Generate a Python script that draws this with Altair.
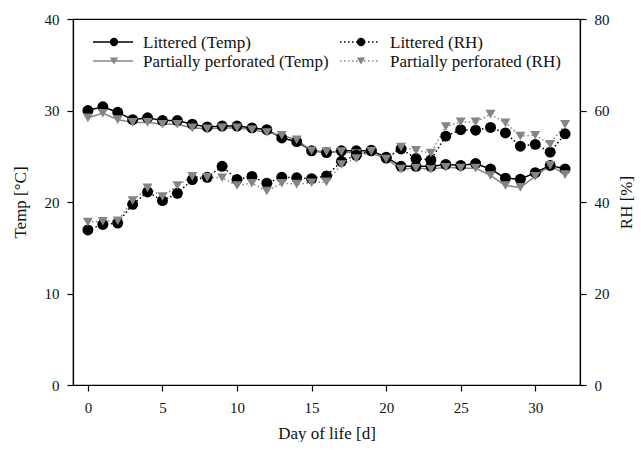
import altair as alt
import pandas as pd

days = list(range(33))
temp_littered = [30.0, 30.4, 29.8, 29.0, 29.2, 28.9, 28.9, 28.5, 28.2, 28.3, 28.3, 28.1, 27.9, 27.0, 26.6,
                 25.6, 25.4, 25.6, 25.6, 25.6, 24.9, 23.9, 23.9, 23.9, 24.1, 24.0, 24.2, 23.6, 22.6, 22.5,
                 23.2, 24.0, 23.6]
temp_perforated = [29.2, 29.7, 29.0, 28.7, 28.7, 28.5, 28.5, 28.1, 28.0, 28.1, 28.1, 27.9, 27.6, 27.3, 26.8,
                   25.6, 25.5, 25.5, 25.3, 25.4, 24.7, 23.6, 23.7, 23.6, 23.8, 23.7, 23.7, 22.9, 21.8, 21.6,
                   22.8, 24.0, 23.0]
rh_littered = [33.9, 35.1, 35.4, 39.5, 42.2, 40.3, 41.9, 44.9, 45.4, 47.8, 44.9, 45.6, 44.1, 45.4, 45.3,
               45.1, 45.7, 48.9, 50.2, 51.3, 49.6, 51.6, 49.5, 49.2, 54.4, 55.8, 55.7, 56.3, 55.1, 52.2,
               52.6, 50.9, 54.9]
rh_perforated = [35.6, 35.8, 35.9, 40.3, 43.1, 41.2, 43.6, 45.6, 45.4, 45.3, 43.6, 44.1, 42.4, 44.1, 43.9,
                 44.2, 44.4, 48.2, 49.5, 51.1, 49.4, 52.0, 51.3, 50.7, 56.5, 57.5, 57.5, 59.2, 57.3, 54.4,
                 54.6, 52.6, 57.0]

legend_labels = ["Littered (Temp)", "Littered (RH)", "Partially perforated (Temp)", "Partially perforated (RH)"]

FONT = "Liberation Serif"
BLACK = "#000000"
GREY = "#858585"

df = pd.DataFrame({
    "day": days,
    "temp_lit": temp_littered,
    "temp_perf": temp_perforated,
    "rh_lit": rh_littered,
    "rh_perf": rh_perforated,
})

xenc = alt.X("day:Q", scale=alt.Scale(domain=[-1, 33], nice=False, zero=False),
             axis=alt.Axis(values=[0, 5, 10, 15, 20, 25, 30], title="Day of life [d]",
                           grid=False, tickSize=6, labelPadding=9, titlePadding=10))

temp_scale = alt.Scale(domain=[0, 40], nice=False)
rh_scale = alt.Scale(domain=[0, 80], nice=False)
temp_axis = alt.Axis(values=[0, 10, 20, 30, 40], title="Temp [°C]", grid=False, tickSize=6,
                     labelPadding=8, titlePadding=15)
rh_axis = alt.Axis(values=[0, 20, 40, 60, 80], title="RH [%]", grid=False, tickSize=6, orient="right",
                   labelPadding=8, titlePadding=26, titleAngle=270)

base = alt.Chart(df)

def series(field, scale, axis, color, dash, shape, size):
    y = alt.Y(f"{field}:Q", scale=scale, axis=axis)
    line = base.mark_line(color=color, strokeWidth=1.5, strokeDash=dash).encode(x=xenc, y=y)
    pts = base.mark_point(shape=shape, filled=True, color=color, size=size, opacity=1).encode(x=xenc, y=y)
    return line, pts

l1, p1 = series("temp_lit", temp_scale, temp_axis, BLACK, [1, 0], "circle", 120)
l2, p2 = series("temp_perf", temp_scale, temp_axis, GREY, [1, 0], "triangle-down", 100)
l3, p3 = series("rh_lit", rh_scale, rh_axis, BLACK, [1.5, 2.5], "circle", 120)
l4, p4 = series("rh_perf", rh_scale, rh_axis, GREY, [1.5, 2.5], "triangle-down", 100)

temp_chart = alt.layer(l1, l2, p1, p2)
rh_chart = alt.layer(l3, l4, p3, p4)

# legend (decoration)
leg_layers = []
specs = [
    (legend_labels[0], 20, 23, BLACK, [1, 0], "circle"),
    (legend_labels[2], 20, 42, GREY, [1, 0], "triangle-down"),
    (legend_labels[1], 267, 23, BLACK, [1.5, 2.5], "circle"),
    (legend_labels[3], 267, 42, GREY, [1.5, 2.5], "triangle-down"),
]
for label, x0, y0, color, dash, shape in specs:
    leg_layers.append(alt.Chart(df.head(1)).mark_rule(color=color, strokeWidth=1.5, strokeDash=dash).encode(
        x=alt.value(x0), x2=alt.value(x0 + 40), y=alt.value(y0)))
    leg_layers.append(alt.Chart(df.head(1)).mark_point(shape=shape, filled=True, color=color, size=70, opacity=1).encode(
        x=alt.value(x0 + 21), y=alt.value(y0)))
    leg_layers.append(alt.Chart(df.head(1)).mark_text(text=label, font=FONT, fontSize=17, align="left",
                                                      baseline="middle", color="#111111").encode(
        x=alt.value(x0 + 50), y=alt.value(y0 + 1)))

chart = alt.layer(temp_chart, rh_chart, *leg_layers).resolve_scale(y="independent").properties(
    width=507, height=366, autosize="none",
    padding={"left": 65, "top": 11, "right": 56, "bottom": 57},
).configure_view(stroke="#000000", strokeWidth=1.2).configure_axis(
    domainColor="#000000", domainWidth=1.2, tickColor="#000000", tickWidth=1.2,
    labelFont=FONT, labelFontSize=15, labelColor="#111111",
    titleFont=FONT, titleFontSize=17, titleFontWeight="normal", titleColor="#111111",
)

chart.save("out.html", embed_options={"renderer": "svg", "actions": False})
